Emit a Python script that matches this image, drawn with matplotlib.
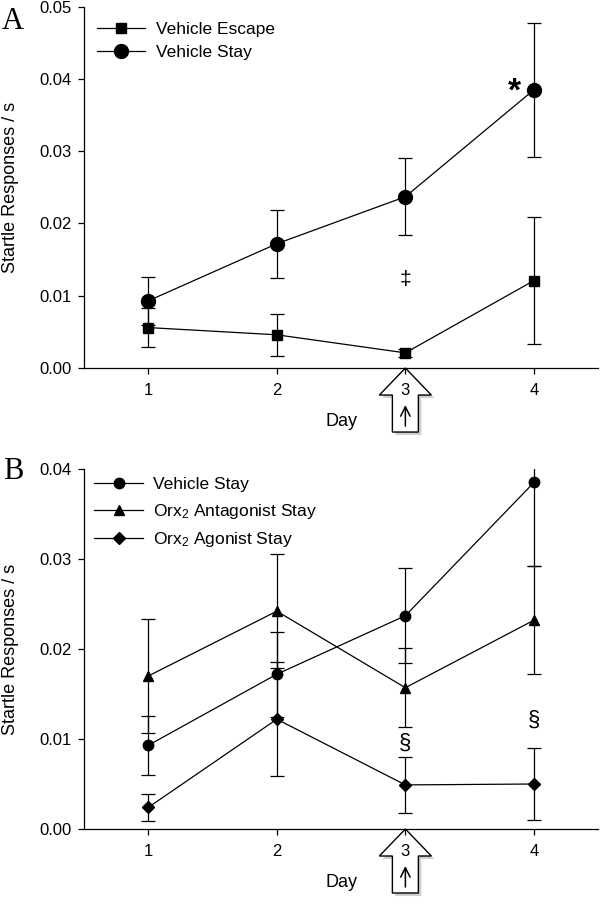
import matplotlib
matplotlib.use("Agg")
import matplotlib.pyplot as plt
from matplotlib.lines import Line2D
from matplotlib.patches import Polygon
from matplotlib.transforms import ScaledTranslation

plt.rcParams['font.family'] = ['Liberation Sans', 'DejaVu Sans']
plt.rcParams['mathtext.fontset'] = 'custom'
plt.rcParams['mathtext.rm'] = 'Liberation Sans'
plt.rcParams['mathtext.it'] = 'Liberation Sans:italic'

# data
DAYS = [1, 2, 3, 4]

veh_escape = [0.0056, 0.0046, 0.0021, 0.0121]
veh_escape_err = [0.0027, 0.0029, 0.0006, 0.0088]

veh_stay = [0.0093, 0.0172, 0.0237, 0.0385]
veh_stay_err = [0.0033, 0.0047, 0.0053, 0.0093]

antag_stay = [0.0170, 0.0242, 0.0157, 0.0232]
antag_stay_err = [0.0063, 0.0063, 0.0044, 0.0060]

agon_stay = [0.0024, 0.0122, 0.0049, 0.0050]
agon_stay_err = [0.0015, 0.0063, 0.0031, 0.0040]

YTICKS_A = [0.00, 0.01, 0.02, 0.03, 0.04, 0.05]
YTICKS_B = [0.00, 0.01, 0.02, 0.03, 0.04]

fig = plt.figure(figsize=(6, 9.11), dpi=100)
axA = fig.add_axes([0.14, 0.596, 0.857, 0.3967])
axB = fig.add_axes([0.14, 0.090, 0.857, 0.3952])

LW = 0.9
err_kw = dict(color='black', linewidth=LW, elinewidth=LW, capsize=5, capthick=LW)


def style_axes(ax, yticks):
    ax.spines['top'].set_visible(False)
    ax.spines['right'].set_visible(False)
    ax.spines['left'].set_linewidth(0.9)
    ax.spines['bottom'].set_linewidth(0.9)
    ax.set_xlim(0.5, 4.5)
    ax.set_ylim(yticks[0], yticks[-1])
    ax.set_xticks(DAYS)
    ax.set_yticks(yticks)
    ax.set_yticklabels([f"{v:.2f}" for v in yticks])
    ax.tick_params(direction='out', length=4, width=0.9, labelsize=12)
    ax.tick_params(axis='x', pad=7)
    ax.tick_params(axis='y', pad=5)
    ax.set_ylabel('Startle Responses / s', fontsize=13)
    ax.yaxis.set_label_coords(-0.126, 0.5)
    ax.set_xlabel('Day', fontsize=13)
    ax.xaxis.set_label_coords(0.5, -0.125)


def draw_arrow(ax, day):
    # hollow block arrow pointing up at the given day, drawn in pixels/100
    trans = fig.dpi_scale_trans + ScaledTranslation(day, 0, ax.transData)
    px = [(0, 0), (26, -27), (13, -27), (13, -64), (-13, -64), (-13, -27), (-26, -27)]
    verts = [(x / 100, y / 100) for x, y in px]
    shadow = [(x + 0.03, y - 0.03) for x, y in verts]
    ax.add_patch(Polygon(shadow, closed=True, facecolor='#bbbbbb', edgecolor='none',
                         alpha=0.7, transform=trans, clip_on=False, zorder=1.0))
    ax.add_patch(Polygon(verts, closed=True, facecolor='white', edgecolor='black',
                         linewidth=1.0, transform=trans, clip_on=False, zorder=1.1))
    ax.annotate('', xy=(0, -0.37), xytext=(0, -0.58), xycoords=trans, textcoords=trans,
                arrowprops=dict(arrowstyle='->', lw=1.1, color='black',
                                shrinkA=0, shrinkB=0, mutation_scale=17),
                annotation_clip=False, zorder=3)


def legend_handles(markers, sizes):
    return [Line2D([], [], color='black', linewidth=LW, marker=m, markersize=s)
            for m, s in zip(markers, sizes)]


# ---- Panel A ----
axA.errorbar(DAYS, veh_escape, yerr=veh_escape_err, marker='s', markersize=7, **err_kw)
axA.errorbar(DAYS, veh_stay, yerr=veh_stay_err, marker='o', markersize=10, **err_kw)
style_axes(axA, YTICKS_A)
axA.legend(legend_handles(['s', 'o'], [7, 10]), ['Vehicle Escape', 'Vehicle Stay'],
           loc='upper left', bbox_to_anchor=(0.025, 0.958), frameon=False,
           fontsize=12.5, handlelength=2.8, handletextpad=0.6, labelspacing=0.45,
           borderpad=0, borderaxespad=0)
axA.text(3, veh_escape[2] + 0.0101, '\u2021', ha='center', va='center', fontsize=15)
axA.text(4 - 0.15, veh_stay[3] - 0.0003, '*', ha='center', va='center',
         fontsize=24, fontweight='bold')
draw_arrow(axA, 3)
fig.text(0.022, 0.976, 'A', family='Liberation Serif', fontsize=22,
         ha='center', va='center')

# ---- Panel B ----
axB.errorbar(DAYS, veh_stay, yerr=veh_stay_err, marker='o', markersize=7.5, **err_kw)
axB.errorbar(DAYS, antag_stay, yerr=antag_stay_err, marker='^', markersize=7, **err_kw)
axB.errorbar(DAYS, agon_stay, yerr=agon_stay_err, marker='D', markersize=6, **err_kw)
style_axes(axB, YTICKS_B)
axB.legend(legend_handles(['o', '^', 'D'], [7.5, 7, 6]),
           ['Vehicle Stay', 'Orx$_2$ Antagonist Stay', 'Orx$_2$ Agonist Stay'],
           loc='upper left', bbox_to_anchor=(0.02, 0.978), frameon=False,
           fontsize=12.5, handlelength=2.8, handletextpad=0.6, labelspacing=0.55,
           borderpad=0, borderaxespad=0)
axB.text(3, agon_stay[2] + 0.0046, '\u00a7', ha='center', va='center', fontsize=16)
axB.text(4, agon_stay[3] + 0.0071, '\u00a7', ha='center', va='center', fontsize=16)
draw_arrow(axB, 3)
fig.text(0.022, 0.482, 'B', family='Liberation Serif', fontsize=22,
         ha='center', va='center')

fig.savefig('out.png', dpi=100)
